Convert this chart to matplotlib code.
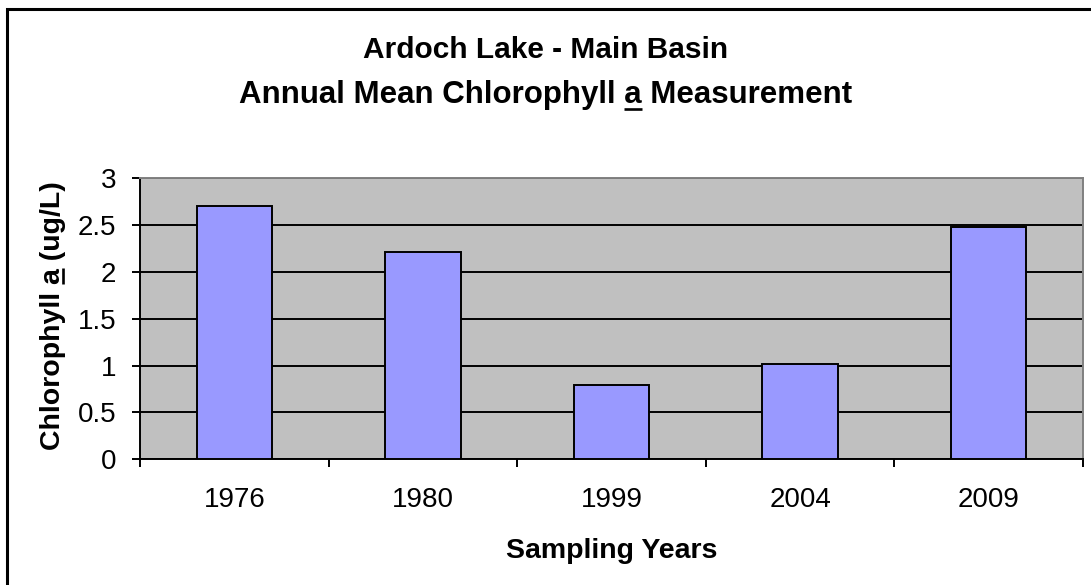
import matplotlib.pyplot as plt
from matplotlib.patches import Rectangle
from matplotlib.lines import Line2D

plt.rcParams['font.family'] = ['Liberation Sans', 'DejaVu Sans']

# data
years = ['1976', '1980', '1999', '2004', '2009']
chl_a = [2.70, 2.21, 0.79, 1.02, 2.48]

W, H = 1091, 585
fig = plt.figure(figsize=(W / 100, H / 100), dpi=100)


def fx(x):
    return x / W


def fy(y):
    # y measured in pixels from the top
    return 1 - y / H


ax = fig.add_axes([fx(140), fy(459.3), fx(1083 - 140), (459.3 - 178.3) / H])

ax.set_facecolor('#C0C0C0')
xs = range(len(years))
ax.bar(xs, chl_a, width=0.4, color='#9999FF', edgecolor='black', linewidth=1.4, zorder=3)

ax.set_xlim(-0.5, len(years) - 0.5)
ax.set_ylim(0, 3)
ax.set_yticks([0, 0.5, 1, 1.5, 2, 2.5, 3])
ax.set_yticklabels(['0', '0.5', '1', '1.5', '2', '2.5', '3'])
ax.yaxis.grid(True, color='black', linewidth=1.4, zorder=1)
ax.set_axisbelow(True)

# category labels centred, ticks on the boundaries
ax.set_xticks([x + 0.5 for x in range(-1, len(years))])
ax.set_xticklabels([])
ax.set_xticks(list(xs), minor=True)
ax.set_xticklabels(years, minor=True)
ax.tick_params(axis='x', which='minor', length=0, pad=20, labelsize=20)
ax.tick_params(axis='x', which='major', direction='out', length=6, width=1.4)
ax.tick_params(axis='y', direction='out', length=6, width=1.4, labelsize=20, pad=11)

for s in ['left', 'bottom']:
    ax.spines[s].set_linewidth(1.4)
    ax.spines[s].set_color('black')
for s in ['top', 'right']:
    ax.spines[s].set_linewidth(1.4)
    ax.spines[s].set_color('#808080')

renderer = fig.canvas.get_renderer()


def text_width(s, size):
    t = fig.text(0, 0, s, fontsize=size, fontweight='bold')
    w = t.get_window_extent(renderer).width
    t.remove()
    return w


def underline(x0, y0, x1, y1):
    fig.add_artist(Line2D([fx(x0), fx(x1)], [fy(y0), fy(y1)], transform=fig.transFigure,
                          color='black', linewidth=1.9, solid_capstyle='butt'))


# titles
t1_size, t2_size = 21.5, 22.5
fig.text(0.5, fy(57.5), 'Ardoch Lake - Main Basin', ha='center', va='baseline',
         fontsize=t1_size, fontweight='bold')
title2 = 'Annual Mean Chlorophyll a Measurement'
fig.text(0.5, fy(103.3), title2, ha='center', va='baseline',
         fontsize=t2_size, fontweight='bold')
full = text_width(title2, t2_size)
pre = text_width('Annual Mean Chlorophyll ', t2_size)
aw = text_width('a', t2_size)
x_start = W / 2 - full / 2
underline(x_start + pre, 109, x_start + pre + aw, 109)

# y label (rotated, reads upward)
yl_size = 20.5
ylab = 'Chlorophyll a (ug/L)'
yc = 315.5
fig.text(fx(60), fy(yc), ylab, rotation=90, rotation_mode='anchor', ha='center', va='baseline',
         fontsize=yl_size, fontweight='bold')
full = text_width(ylab, yl_size)
pre = text_width('Chlorophyll ', yl_size)
aw = text_width('a', yl_size)
y_start = yc + full / 2
underline(63, y_start - pre, 63, y_start - pre - aw)

# x label
fig.text(fx(611.5), fy(558), 'Sampling Years', ha='center', va='baseline',
         fontsize=20.5, fontweight='bold')

# outer chart frame
fig.patches.append(Rectangle((fx(7), -0.1), 1.2, fy(9) + 0.1, transform=fig.transFigure,
                             fill=False, edgecolor='black', linewidth=2.2))

fig.savefig('out.png', dpi=100)
